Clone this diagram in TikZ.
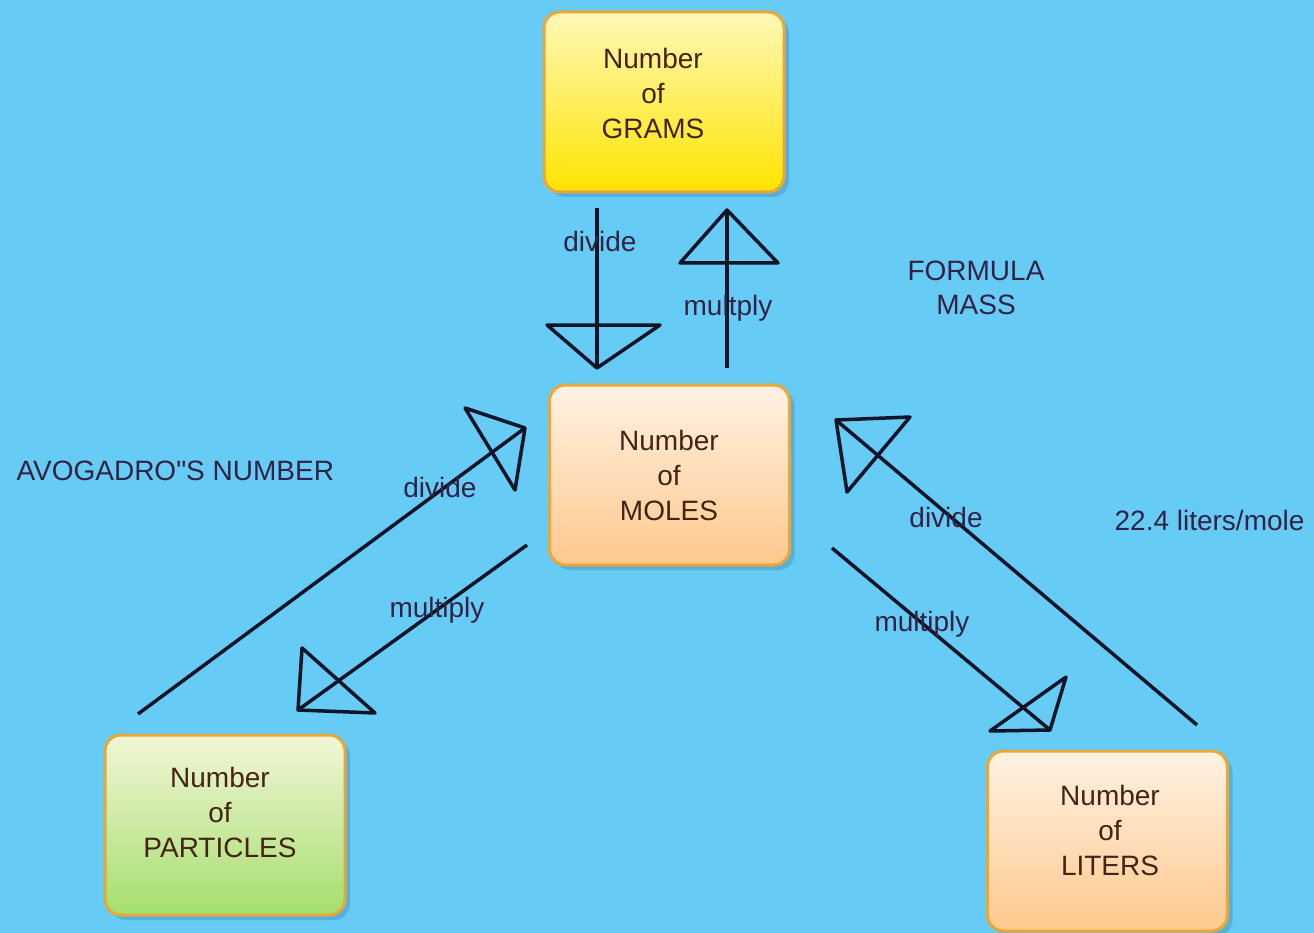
\documentclass[tikz,border=0pt]{standalone}
\usepackage{fontspec}
\newfontfamily\labfont{Liberation Sans}
\usetikzlibrary{shadows}
\definecolor{bg}{RGB}{102,204,245}
\definecolor{boxedge}{RGB}{232,168,56}
\definecolor{shadowc}{RGB}{70,140,190}
\definecolor{boxtxt}{RGB}{70,35,20}
\definecolor{labc}{RGB}{50,35,70}
\definecolor{linec}{RGB}{15,20,40}
\definecolor{ytop}{RGB}{255,248,185}
\definecolor{ybot}{RGB}{255,228,0}
\definecolor{otop}{RGB}{255,242,228}
\definecolor{obot}{RGB}{255,200,140}
\definecolor{gtop}{RGB}{242,246,215}
\definecolor{gbot}{RGB}{165,222,110}
\begin{document}
\begin{tikzpicture}[x=1pt,y=-1pt,
  box/.style={draw=boxedge, line width=3pt, rounded corners=16pt,
    minimum width=240pt, minimum height=180pt,
    drop shadow={shadow xshift=5pt, shadow yshift=-5pt, fill=shadowc, opacity=0.45}},
  boxtext/.style={font=\labfont\fontsize{28}{35}\selectfont, text=boxtxt, align=center},
  lab/.style={font=\labfont\fontsize{28}{34}\selectfont, text=labc, align=center},
  conn/.style={draw=linec, line width=3.5pt},
  head/.style={draw=linec, line width=3.5pt, line join=round}
]
\useasboundingbox (0,0) rectangle (1314,933);
\fill[bg] (0,0) rectangle (1314,933);

% boxes
\node[box, top color=ytop, bottom color=ybot] (grams) at (664,102) {};
\node[boxtext] (grams-t) at (653,93) {Number\\of\\GRAMS};
\node[box, top color=otop, bottom color=obot] (moles) at (669.5,475) {};
\node[boxtext] (moles-t) at (669,475) {Number\\of\\MOLES};
\node[box, top color=gtop, bottom color=gbot] (parts) at (225,825) {};
\node[boxtext] (parts-t) at (220,812) {Number\\of\\PARTICLES};
\node[box, top color=otop, bottom color=obot] (liters) at (1107.5,841) {};
\node[boxtext] (liters-t) at (1110,830) {Number\\of\\LITERS};

% connector end points
\coordinate (a1s) at (597,208); \coordinate (a1e) at (597,368);
\coordinate (a1b1) at (547,325); \coordinate (a1b2) at (660,325);
\coordinate (a2s) at (727,368); \coordinate (a2e) at (727,210);
\coordinate (a2b1) at (680,263); \coordinate (a2b2) at (778,263);
\coordinate (a3s) at (138,714); \coordinate (a3e) at (525,428);
\coordinate (a3b1) at (465,408); \coordinate (a3b2) at (515,490);
\coordinate (a4s) at (527,545); \coordinate (a4e) at (298,710);
\coordinate (a4b1) at (302,648); \coordinate (a4b2) at (375,713);
\coordinate (a5s) at (832,548); \coordinate (a5e) at (1050,730);
\coordinate (a5b1) at (990,731); \coordinate (a5b2) at (1066,677);
\coordinate (a6s) at (1197,725); \coordinate (a6e) at (836,420);
\coordinate (a6b1) at (910,417); \coordinate (a6b2) at (847,492);

% connectors
\foreach \i in {1,...,6}{
  \draw[conn] (a\i s) -- (a\i e);
  \draw[head] (a\i b1) -- (a\i b2) -- (a\i e) -- cycle;
}

% labels
\node[lab] (l1) at (600,241) {divide};
\node[lab] (l2) at (728,308) {multply};
\node[lab] (l3) at (440,487) {divide};
\node[lab] (l4) at (437,610) {multiply};
\node[lab] (l5) at (922,624) {multiply};
\node[lab] (l6) at (946,517) {divide};
\node[lab] (fm) at (976,288) {FORMULA\\MASS};
\node[lab, anchor=west] (avo) at (13,471) {AVOGADRO"S NUMBER};
\node[lab, anchor=east] (lit) at (1308,520) {22.4 liters/mole};
\end{tikzpicture}
\end{document}
